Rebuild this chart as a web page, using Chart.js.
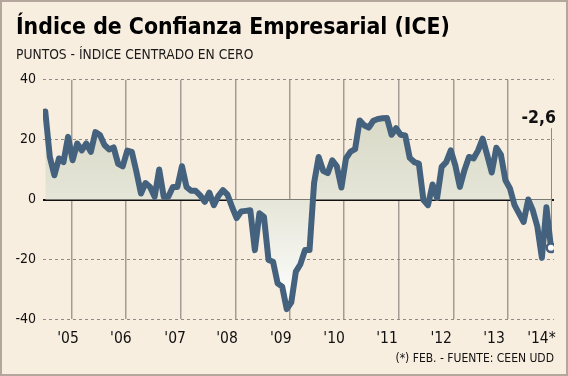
<!DOCTYPE html>
<html>
<head>
<meta charset="utf-8">
<script src="https://cdn.jsdelivr.net/npm/chart.js@4.4.0/dist/chart.umd.min.js"></script>
<style>
  html, body { margin: 0; padding: 0; background: #f8eee0; }
  #wrap { position: relative; width: 568px; height: 376px; background: #f8eee0; }
  #frame { position: absolute; left: 0; top: 0; right: 0; bottom: 0; border: 2px solid #b4a59d; pointer-events: none; }
</style>
</head>
<body>
<div id="wrap">
  <canvas id="chart" width="568" height="376"></canvas>
  <div id="frame"></div>
</div>
<script>
// monthly ICE values, mid-2004 to the last reading
const ice = [
  29.4, 14.2, 8.1, 13.7, 12.5, 20.9, 13.1, 18.7, 16.4, 18.7,
  15.9, 22.5, 21.5, 18.2, 16.7, 17.4, 11.9, 11.1, 16.3, 15.9,
  9.3, 2.0, 5.5, 4.2, 0.9, 10.0, 0.9, 0.9, 4.2, 4.2,
  11.1, 4.2, 2.9, 2.9, 1.4, -0.8, 2.3, -1.9, 1.2, 3.1,
  1.6, -2.5, -6.2, -4.0, -3.8, -3.6, -16.9, -4.6, -5.8, -20.2,
  -20.8, -28.0, -29.1, -36.6, -34.3, -24.1, -21.6, -16.9, -16.9, 5.5,
  14.2, 9.6, 8.8, 13.1, 11.1, 4.0, 13.7, 16.0, 16.8, 26.4,
  24.8, 24.0, 26.3, 26.9, 27.1, 27.2, 21.6, 23.8, 21.6, 21.4,
  13.9, 12.5, 12.0, -0.2, -1.9, 5.0, 0.5, 10.9, 12.5, 16.4,
  11.4, 4.2, 9.8, 14.2, 13.7, 16.4, 20.3, 14.8, 9.0, 17.3,
  15.0, 6.4, 3.7, -1.9, -4.7, -7.5, 0.0, -3.6, -9.0, -19.5,
  -2.6, -16.1
];
// year labels and where they sit, in month index units
const yearLabels = ["'05", "'06", "'07", "'08", "'09", "'10", "'11", "'12", "'13", "'14*"];
const yearLabelAt = [5.0, 16.6, 28.5, 39.9, 51.7, 63.4, 75.0, 86.9, 98.5, 108.9];
// year separators (month index units)
const yearLineAt = [5.8, 17.75, 29.7, 41.7, 53.7, 65.6, 77.6, 89.6, 101.5];
const yTicks = [-40, -20, 0, 20, 40];
const lastLabel = '-2,6';

const FONT = "'DejaVu Sans Condensed', 'DejaVu Sans', sans-serif";
const LINE = '#44627d';
const X_MIN = -0.5, X_MAX = 111.66;

const lastMark = {
  id: 'lastMark',
  beforeDatasetsDraw(chart) {
    const meta = chart.getDatasetMeta(0);
    const pt = meta.data[meta.data.length - 1];
    const y = chart.scales.y;
    const ctx = chart.ctx;
    ctx.save();
    ctx.strokeStyle = '#8e8882';
    ctx.lineWidth = 1;
    ctx.beginPath();
    ctx.moveTo(Math.round(pt.x) + 0.5, y.getPixelForValue(23.8));
    ctx.lineTo(Math.round(pt.x) + 0.5, pt.y);
    ctx.stroke();
    ctx.restore();
  },
  afterDatasetsDraw(chart) {
    const meta = chart.getDatasetMeta(0);
    const pt = meta.data[meta.data.length - 1];
    const y = chart.scales.y;
    const ctx = chart.ctx;
    ctx.save();
    ctx.fillStyle = '#111';
    ctx.font = "bold 17.5px " + FONT;
    ctx.textAlign = 'right';
    ctx.textBaseline = 'alphabetic';
    ctx.fillText(lastLabel, pt.x + 5, y.getPixelForValue(25.4));
    ctx.restore();
  }
};

new Chart(document.getElementById('chart'), {
  type: 'line',
  data: {
    datasets: [{
      data: ice.map((v, i) => ({ x: i, y: v })),
      borderColor: LINE,
      borderWidth: 6,
      borderJoinStyle: 'round',
      borderCapStyle: 'round',
      tension: 0,
      fill: 'origin',
      backgroundColor: (c) => {
        const area = c.chart.chartArea;
        if (!area) return 'rgba(220,220,205,0.8)';
        const g = c.chart.ctx.createLinearGradient(0, area.top, 0, area.bottom);
        g.addColorStop(0, '#d4d4c0');
        g.addColorStop(0.5, '#e5e5d8');
        g.addColorStop(0.95, '#ffffff');
        return g;
      },
      pointRadius: (c) => c.dataIndex === ice.length - 1 ? 4.3 : 0,
      pointBackgroundColor: '#ffffff',
      pointBorderColor: LINE,
      pointBorderWidth: 2.5
    }]
  },
  options: {
    responsive: false,
    animation: false,
    events: [],
    layout: { padding: { left: 16, right: 14, top: 0, bottom: 0 } },
    plugins: {
      legend: { display: false },
      tooltip: { enabled: false },
      title: {
        display: true,
        text: 'Índice de Confianza Empresarial (ICE)',
        align: 'start',
        color: '#000',
        font: { family: FONT, size: 22.8, weight: 'bold', lineHeight: 1.2 },
        padding: { top: 14, bottom: 0 }
      },
      subtitle: {
        display: true,
        text: 'PUNTOS - ÍNDICE CENTRADO EN CERO',
        align: 'start',
        color: '#1a1a1a',
        font: { family: FONT, size: 13.7, lineHeight: 1.2 },
        padding: { top: 5.5, bottom: 16.4 }
      }
    },
    scales: {
      x: {
        type: 'linear',
        min: X_MIN,
        max: X_MAX,
        afterBuildTicks: (s) => { s.ticks = yearLabelAt.map(v => ({ value: v })); },
        afterFit: (s) => { s.height = 56.7; },
        grid: { display: false },
        border: { display: false },
        ticks: {
          autoSkip: false,
          maxRotation: 0,
          padding: 2,
          color: '#111',
          font: { family: FONT, size: 15.5 },
          callback: (v, i) => yearLabels[i]
        },
        title: {
          display: true,
          text: '(*) FEB. - FUENTE: CEEN UDD',
          align: 'end',
          color: '#111',
          font: { family: FONT, size: 12 },
          padding: { top: 0, bottom: 10 }
        }
      },
      xg: {
        type: 'linear',
        position: 'bottom',
        min: X_MIN,
        max: X_MAX,
        afterBuildTicks: (s) => { s.ticks = yearLineAt.map(v => ({ value: v })); },
        afterFit: (s) => { s.height = 0; },
        ticks: { display: false },
        border: { display: false },
        grid: { color: '#a39c96', lineWidth: 1.5, drawTicks: false }
      },
      y: {
        min: -40,
        max: 40,
        afterBuildTicks: (s) => { s.ticks = yTicks.map(v => ({ value: v })); },
        afterFit: (s) => { s.width = 27; },
        border: { display: false, dash: (c) => (c.tick && c.tick.value === 0) ? [] : [3, 3] },
        grid: {
          drawTicks: false,
          color: (c) => c.tick.value === 0 ? '#111' : '#8f8a85',
          lineWidth: (c) => c.tick.value === 0 ? 2 : 1
        },
        ticks: {
          padding: 7,
          color: '#111',
          font: { family: FONT, size: 14 }
        }
      }
    }
  },
  plugins: [lastMark]
});
</script>
</body>
</html>
